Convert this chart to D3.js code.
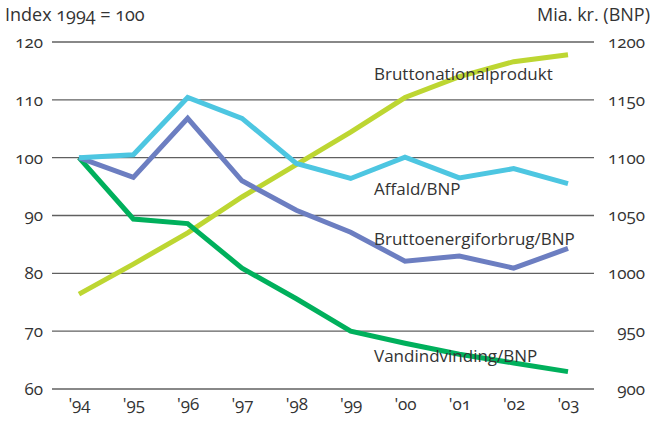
<!DOCTYPE html>
<html>
<head>
<meta charset="utf-8">
<script src="https://cdn.jsdelivr.net/npm/d3@7"></script>
<style>
  body { margin: 0; background: #fff; }
  svg text { font-family: "Open Sans", "Noto Sans", sans-serif; fill: #333; font-variant-numeric: oldstyle-nums; }
</style>
</head>
<body>
<div id="chart"></div>
<script>
// data
var years = ["'94", "'95", "'96", "'97", "'98", "'99", "'00", "'01", "'02", "'03"];
var affald = [100, 100.5, 110.4, 106.8, 99.0, 96.4, 100.1, 96.5, 98.1, 95.5];
var energi = [100, 96.6, 106.8, 96.0, 90.9, 87.1, 82.1, 83.0, 80.9, 84.3];
var vand = [100, 89.4, 88.6, 80.9, 75.6, 70.0, 67.9, 66.0, 64.5, 63.0];
var bnp = [982, 1008, 1035, 1066, 1094, 1122, 1152, 1170, 1183, 1189];
var leftTicks = [60, 70, 80, 90, 100, 110, 120];
var rightTicks = [900, 950, 1000, 1050, 1100, 1150, 1200];

var svgWidth = 654;
var svgHeight = 421;

var svg = d3.select("#chart")
  .append("svg")
  .attr("width", svgWidth)
  .attr("height", svgHeight);

var xScale = d3.scalePoint()
  .domain(years)
  .range([79, 568]);

var yLeft = d3.scaleLinear()
  .domain([60, 120])
  .range([389, 42]);

var yRight = d3.scaleLinear()
  .domain([900, 1200])
  .range([389, 42]);

// gridlines
svg.append("g").selectAll("line")
  .data(leftTicks)
  .enter()
  .append("line")
  .attr("x1", 52)
  .attr("x2", 594)
  .attr("y1", d => yLeft(d))
  .attr("y2", d => yLeft(d))
  .attr("stroke", "#606060")
  .attr("stroke-width", 1.4);

// left axis labels
var leftAxis = d3.axisLeft(yLeft).tickValues(leftTicks).tickSize(0).tickPadding(0);
var gl = svg.append("g")
  .attr("transform", "translate(43,0)")
  .call(leftAxis);
gl.select(".domain").remove();
gl.selectAll("text")
  .attr("font-size", "17px")
  .attr("dy", "0.32em")
  .style("fill", "#333");

// right axis labels
var rightAxis = d3.axisRight(yRight).tickValues(rightTicks).tickFormat(d3.format("d")).tickSize(0).tickPadding(0);
var gr = svg.append("g")
  .attr("transform", "translate(645,0)")
  .call(rightAxis);
gr.select(".domain").remove();
gr.selectAll("text")
  .attr("text-anchor", "end")
  .attr("font-size", "17px")
  .attr("dy", "0.32em")
  .style("fill", "#333");

// x axis labels
var bottomAxis = d3.axisBottom(xScale).tickSize(0).tickPadding(0);
var gb = svg.append("g")
  .attr("transform", "translate(0,398)")
  .call(bottomAxis);
gb.select(".domain").remove();
gb.selectAll("text")
  .attr("font-size", "17px")
  .attr("dy", "0.71em")
  .style("fill", "#333");

// lines
var leftLine = d3.line()
  .x((d, i) => xScale(years[i]))
  .y(d => yLeft(d));

var rightLine = d3.line()
  .x((d, i) => xScale(years[i]))
  .y(d => yRight(d));

var series = [
  { values: bnp, color: "#bdd632", line: rightLine },
  { values: vand, color: "#00b05c", line: leftLine },
  { values: energi, color: "#6c7ec1", line: leftLine },
  { values: affald, color: "#4dc6e1", line: leftLine }
];

series.forEach(function(s) {
  svg.append("path")
    .datum(s.values)
    .attr("d", s.line)
    .attr("fill", "none")
    .attr("stroke", s.color)
    .attr("stroke-width", 5)
    .attr("stroke-linejoin", "miter");
});

// line labels
var labels = [
  { text: "Bruttonationalprodukt", y: 80 },
  { text: "Affald/BNP", y: 195 },
  { text: "Bruttoenergiforbrug/BNP", y: 245 },
  { text: "Vandindvinding/BNP", y: 362 }
];

svg.selectAll(".lineLabel")
  .data(labels)
  .enter()
  .append("text")
  .attr("class", "lineLabel")
  .attr("x", 374)
  .attr("y", d => d.y)
  .attr("font-size", "17px")
  .text(d => d.text);

// axis titles
svg.append("text")
  .attr("x", 5)
  .attr("y", 21)
  .attr("font-size", "18px")
  .text("Index 1994 = 100");

svg.append("text")
  .attr("x", 650)
  .attr("y", 21)
  .attr("text-anchor", "end")
  .attr("font-size", "18px")
  .text("Mia. kr. (BNP)");
</script>
</body>
</html>
